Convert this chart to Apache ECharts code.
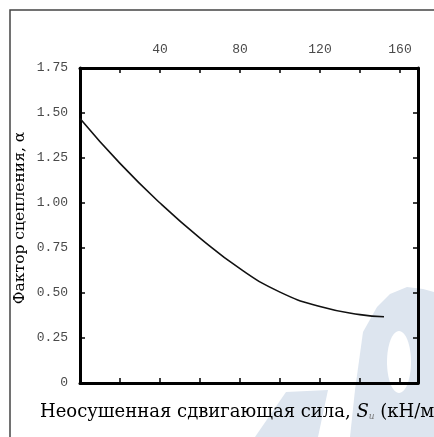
<!DOCTYPE html>
<html>
<head>
<meta charset="utf-8">
<script src="https://cdn.jsdelivr.net/npm/echarts@6/dist/echarts.min.js"></script>
<style>
	html, body { margin: 0; padding: 0; background: #fff; }
	#chart { width: 434px; height: 437px; }
</style>
</head>
<body>
<div id="chart"></div>
<script>
"use strict";

var shearStrength = [0, 20, 40, 60, 80, 100, 120, 140, 152];
var adhesionFactor = [1.47, 1.22, 1.00, 0.805, 0.635, 0.505, 0.425, 0.38, 0.368];
var xTickLabels = [40, 80, 120, 160];
var yTickLabels = ['0', '0.25', '0.50', '0.75', '1.00', '1.25', '1.50', '1.75'];

var X_MAX = 169;
var MONO = '"Liberation Mono", "DejaVu Sans Mono", monospace';
var SERIF = '"DejaVu Serif", "Liberation Serif", serif';
var WATERMARK = '#dde5ef';

var chart = echarts.init(document.getElementById('chart'), null, { renderer: 'canvas' });

var points = [];
for (var i = 0; i < shearStrength.length; i++) {
	points.push([shearStrength[i], adhesionFactor[i]]);
}

function frameAxis(extra) {
	var axis = {
		type: 'value',
		axisLine: { show: true, onZero: false, lineStyle: { color: '#000', width: 3 } },
		axisTick: { show: true, inside: true, length: 5, lineStyle: { color: '#000', width: 1.5 } },
		splitLine: { show: false },
		axisLabel: { show: false }
	};
	for (var k in extra) axis[k] = extra[k];
	return axis;
}

chart.setOption({
	animation: false,
	backgroundColor: '#fff',
	grid: {
		left: 80,
		right: 16,
		top: 68,
		bottom: 54
	},
	xAxis: [
		frameAxis({
			position: 'top',
			min: 0,
			max: X_MAX,
			interval: 20,
			axisLabel: {
				show: true,
				margin: 12,
				color: '#4a4a4a',
				fontFamily: MONO,
				fontSize: 13,
				formatter: function(v) {
					return xTickLabels.indexOf(v) >= 0 ? String(v) : '';
				}
			}
		}),
		frameAxis({ position: 'bottom', min: 0, max: X_MAX, interval: 20 })
	],
	yAxis: [
		frameAxis({
			position: 'left',
			min: 0,
			max: 1.75,
			interval: 0.25,
			axisLabel: {
				show: true,
				margin: 12,
				color: '#4a4a4a',
				fontFamily: MONO,
				fontSize: 13,
				formatter: function(v) {
					return yTickLabels[Math.round(v / 0.25)];
				}
			}
		}),
		frameAxis({ position: 'right', min: 0, max: 1.75, interval: 0.25 })
	],
	series: [{
		name: 'alpha',
		type: 'line',
		smooth: true,
		showSymbol: false,
		lineStyle: { color: '#111', width: 1.6 },
		data: points,
		z: 5
	}],
	graphic: [
		// watermark, drawn under the chart
		{ type: 'polygon', z: -10, shape: { points: [[286, 392], [328, 390], [318, 437], [255, 437]] }, style: { fill: WATERMARK } },
		{ type: 'polygon', z: -10, shape: { points: [[350, 437], [355, 390], [363, 332], [377, 307], [390, 294], [407, 287], [423, 289], [434, 292], [434, 437]] }, style: { fill: WATERMARK } },
		{ type: 'ellipse', z: -9, shape: { cx: 399, cy: 362, rx: 12, ry: 31 }, style: { fill: '#fff' } },
		// outer frame
		{ type: 'rect', z: -5, shape: { x: 10, y: 10, width: 600, height: 600 }, style: { fill: null, stroke: '#444', lineWidth: 1.5 } },
		// y axis name
		{
			type: 'text',
			x: 20,
			y: 218,
			rotation: Math.PI / 2,
			style: {
				text: 'Фактор сцепления, α',
				fontFamily: SERIF,
				fontSize: 15.5,
				fill: '#000',
				align: 'center',
				verticalAlign: 'middle'
			}
		},
		// x axis name
		{
			type: 'text',
			x: 40,
			y: 412,
			style: {
				text: 'Неосушенная сдвигающая сила, {s|S}{u|u} (кН/м²)',
				fontFamily: SERIF,
				fontSize: 18,
				fill: '#000',
				align: 'left',
				verticalAlign: 'middle',
				rich: {
					s: { fontFamily: SERIF, fontStyle: 'italic', fontSize: 18, fill: '#000' },
					u: { fontFamily: SERIF, fontStyle: 'italic', fontSize: 9, fill: '#777', verticalAlign: 'bottom' }
				}
			}
		}
	]
});
</script>
</body>
</html>
